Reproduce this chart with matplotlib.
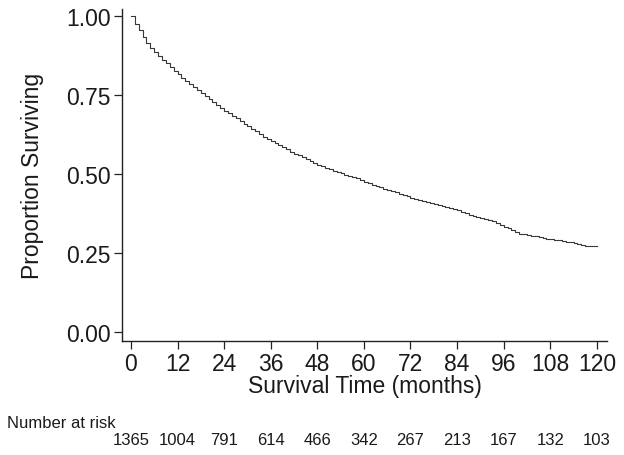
import matplotlib
matplotlib.use("Agg")
import matplotlib.pyplot as plt

# Kaplan-Meier estimate, one value per month (0..120)
months = list(range(0, 121))
surv = [
    1.000, 0.975, 0.955, 0.935, 0.915, 0.900, 0.885, 0.872, 0.862, 0.850,
    0.838, 0.826, 0.815, 0.805, 0.795, 0.785, 0.776, 0.766, 0.757, 0.748,
    0.738, 0.728, 0.719, 0.709, 0.700, 0.692, 0.684, 0.676, 0.667, 0.659,
    0.651, 0.643, 0.635, 0.627, 0.618, 0.611, 0.605, 0.597, 0.591, 0.585,
    0.578, 0.571, 0.565, 0.560, 0.554, 0.548, 0.542, 0.535, 0.529, 0.524,
    0.519, 0.515, 0.510, 0.506, 0.502, 0.498, 0.494, 0.490, 0.486, 0.481,
    0.476, 0.471, 0.466, 0.462, 0.458, 0.454, 0.450, 0.446, 0.442, 0.438,
    0.434, 0.430, 0.425, 0.421, 0.418, 0.415, 0.412, 0.408, 0.405, 0.402,
    0.399, 0.396, 0.392, 0.389, 0.385, 0.380, 0.376, 0.371, 0.367, 0.364,
    0.361, 0.357, 0.354, 0.350, 0.345, 0.340, 0.334, 0.328, 0.322, 0.316,
    0.312, 0.310, 0.308, 0.305, 0.303, 0.300, 0.298, 0.296, 0.294, 0.292,
    0.290, 0.288, 0.286, 0.284, 0.282, 0.280, 0.277, 0.274, 0.274, 0.274,
    0.274,
]

xticks = [0, 12, 24, 36, 48, 60, 72, 84, 96, 108, 120]
yticks = [0.00, 0.25, 0.50, 0.75, 1.00]
at_risk = [1365, 1004, 791, 614, 466, 342, 267, 213, 167, 132, 103]

plt.rcParams['font.family'] = ['Liberation Sans', 'DejaVu Sans']

fig = plt.figure(figsize=(6.24, 4.56), dpi=100)
ax = fig.add_axes([0.1955, 0.25, 0.7772, 0.728])

ax.plot(months, surv, drawstyle='steps-post', color='#383838', lw=0.8)

ax.set_xlim(-2.3, 122.6)
ax.set_ylim(-0.028, 1.022)
ax.set_xticks(xticks)
ax.set_yticks(yticks)
ax.set_yticklabels([f'{v:.2f}' for v in yticks])
ax.tick_params(labelsize=16.5, length=6, width=0.9, color='#222222', pad=2,
               labelcolor='#1a1a1a')

for side in ['top', 'right']:
    ax.spines[side].set_visible(False)
for side in ['left', 'bottom']:
    ax.spines[side].set_linewidth(1.0)
    ax.spines[side].set_color('#222222')

ax.set_xlabel('Survival Time (months)', fontsize=16.5, color='#1a1a1a')
ax.set_ylabel('Proportion Surviving', fontsize=16.5, color='#1a1a1a')
ax.xaxis.set_label_coords(0.5, -0.10)
ax.yaxis.set_label_coords(-0.16, 0.5)

# number at risk table under the axis
fig.text(0.011, 1 - 424 / 456, 'Number at risk', fontsize=12,
         ha='left', va='center', color='#1a1a1a')
for t, n in zip(xticks, at_risk):
    ax.text(t, -0.298, str(n), fontsize=12, ha='center', va='center',
            transform=ax.get_xaxis_transform(), clip_on=False,
            color='#1a1a1a')

fig.savefig('out.png', dpi=100)
